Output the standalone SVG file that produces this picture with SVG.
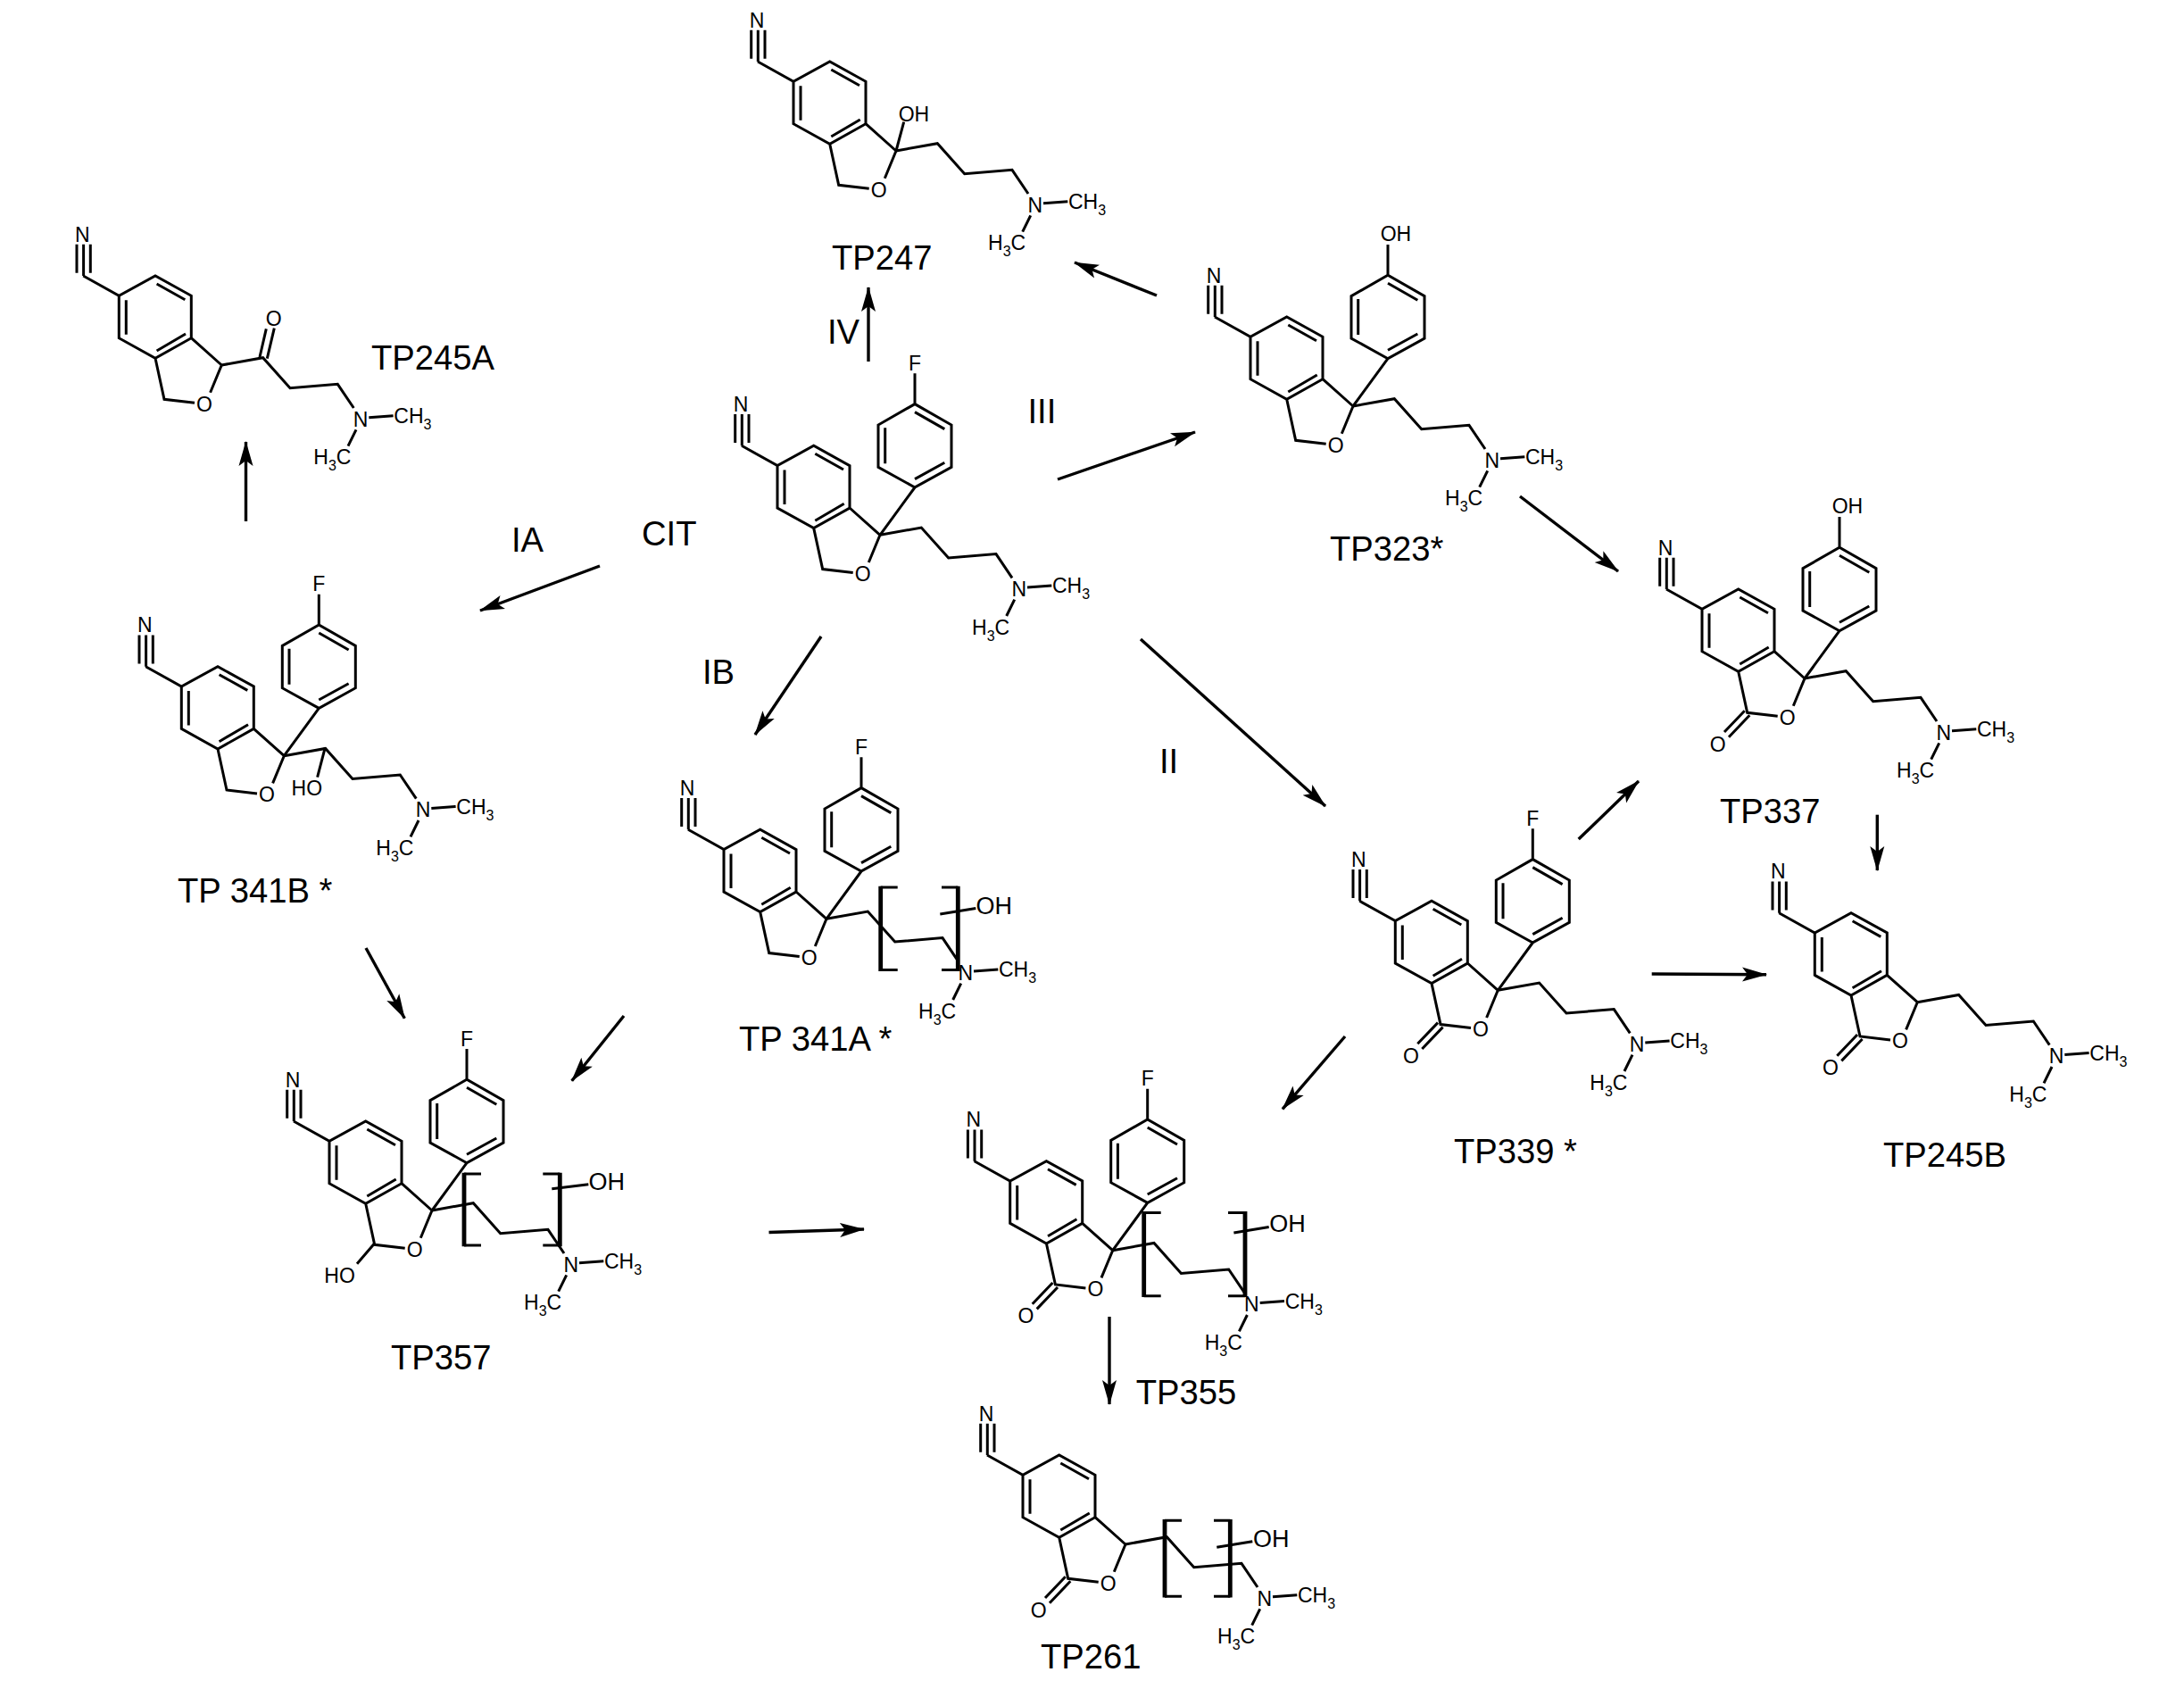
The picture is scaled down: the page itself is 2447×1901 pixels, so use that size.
<svg xmlns="http://www.w3.org/2000/svg" width="2447" height="1901" viewBox="0 0 2447 1901">
<style>
text{font-family:"Liberation Sans",Arial,sans-serif;fill:#000}
.s{font-size:23px}
.u{font-size:16px}
.h{font-size:27px}
.l{font-size:38.2px}
.m{text-anchor:middle}
.b{fill:none;stroke:#000;stroke-width:3;stroke-linejoin:miter}
.v{fill:none;stroke:#000;stroke-width:4.8}
.a{fill:none;stroke:#000;stroke-width:3.4;marker-end:url(#ah)}
</style>
<defs>
<marker id="ah" viewBox="0 0 28 18" refX="27" refY="9" markerWidth="28" markerHeight="18" markerUnits="userSpaceOnUse" orient="auto"><path d="M28,9 L0,1 L6,9 L0,17 Z" fill="#000"/></marker>
<path id="benzo" class="b" d="M-155,-100 L-115,-77.7 L-74.3,-100 L-34,-77.7 L-34,-30.3 L-74.3,-7.7 L-115,-30.3 L-115,-77.7 M-34,-30.3 L0,0 M-72.7,-91 L-41,-73.3 M-107,-72.7 V-34.3 M-40.3,-35 L-72.7,-16 M-162.3,-103.3 V-135.3 M-147,-103.3 V-135.3 M-154.7,-100 V-135.3 M-74.3,-7.7 L-64.3,38.3 L-30.3,42.3 M-12.7,30.7 L0,0"/>
<path id="lactone" class="b" d="M-67.3,36.3 L-90,60 M-61.7,41.3 L-85,65.7"/>
<path id="aryl" class="b" d="M0,0 L39,-53.3 L80,-76 V-123.3 L39,-146.7 L-2,-123.3 V-76 L39,-53.3 M39,-62.7 L72.3,-81 M72.3,-118.7 L39,-137.7 M5.7,-120 V-80 M39,-146.7 V-181"/>
<path id="chain" class="b" d="M0,0 L46.3,-8.3 L76.7,25.7 L130,21.3 L148,48 M165,58.7 L192.3,56.7 M150.7,72.3 L141.7,90.7"/>
</defs>
<rect width="2447" height="1901" fill="#fff"/>
<g id="connectors">
<path class="a" d="M973,405 V322"/>
<path class="a" d="M275.5,584 V495"/>
<path class="a" d="M1296,331 L1204,294"/>
<path class="a" d="M1185,537 L1339,484"/>
<path class="a" d="M672,634 L538,684"/>
<path class="a" d="M920,713 L846,823"/>
<path class="a" d="M1278,716 L1485,903"/>
<path class="a" d="M1703,556 L1813,640"/>
<path class="a" d="M1768.7,940 L1836,875"/>
<path class="a" d="M2103.3,912.7 V975"/>
<path class="a" d="M1850.7,1091 L1979,1091.7"/>
<path class="a" d="M1507,1161 L1437,1242.3"/>
<path class="a" d="M410,1062 L453.3,1140.7"/>
<path class="a" d="M699,1138 L640.7,1210.7"/>
<path class="a" d="M861.5,1380.5 L968,1377"/>
<path class="a" d="M1243,1475 V1573"/>
</g>
<g id="route-labels">
<text class="l" x="719" y="611">CIT</text>
<text class="l" x="573" y="618">IA</text>
<text class="l" x="787" y="766">IB</text>
<text class="l" x="1151.5" y="474">III</text>
<text class="l" x="1299" y="866">II</text>
<text class="l" x="927" y="385">IV</text>
</g>
<g id="CIT"><g transform="translate(986,599.3)">
<use href="#benzo"/><use href="#aryl"/><use href="#chain"/>
<text class="s m" x="-156" y="-138.3">N</text><text class="s m" x="-19.3" y="51.7">O</text><text class="s m" x="39" y="-184.3">F</text><text class="s m" x="155.7" y="68.7">N</text>
<text class="s" x="193" y="65">CH<tspan class="u" dy="7">3</tspan></text><text class="s" x="103" y="111.3">H<tspan class="u" dy="7">3</tspan><tspan dy="-7">C</tspan></text>
</g></g>
<g id="TP247"><g transform="translate(1004,169)">
<use href="#benzo"/><use href="#chain"/><path class="b" d="M0,0 L8.7,-32.3"/>
<text class="s" x="2.7" y="-33">OH</text>
<text class="s m" x="-156" y="-138.3">N</text><text class="s m" x="-19.3" y="51.7">O</text><text class="s m" x="155.7" y="68.7">N</text>
<text class="s" x="193" y="65">CH<tspan class="u" dy="7">3</tspan></text><text class="s" x="103" y="111.3">H<tspan class="u" dy="7">3</tspan><tspan dy="-7">C</tspan></text>
</g><text class="l" x="932" y="301.7">TP247</text></g>
<g id="TP245A"><g transform="translate(248.3,409)">
<use href="#benzo"/><use href="#chain"/><path class="b" d="M42.7,-9 L50,-40.7 M51,-7.3 L59,-41.3"/>
<text class="s m" x="58.3" y="-44">O</text>
<text class="s m" x="-156" y="-138.3">N</text><text class="s m" x="-19.3" y="51.7">O</text><text class="s m" x="155.7" y="68.7">N</text>
<text class="s" x="193" y="65">CH<tspan class="u" dy="7">3</tspan></text><text class="s" x="103" y="111.3">H<tspan class="u" dy="7">3</tspan><tspan dy="-7">C</tspan></text>
</g><text class="l" x="416" y="414.3">TP245A</text></g>
<g id="TP323"><g transform="translate(1516,455)">
<use href="#benzo"/><use href="#aryl"/><use href="#chain"/>
<text class="s" x="30.7" y="-185">OH</text>
<text class="s m" x="-156" y="-138.3">N</text><text class="s m" x="-19.3" y="51.7">O</text><text class="s m" x="155.7" y="68.7">N</text>
<text class="s" x="193" y="65">CH<tspan class="u" dy="7">3</tspan></text><text class="s" x="103" y="111.3">H<tspan class="u" dy="7">3</tspan><tspan dy="-7">C</tspan></text>
</g><text class="l" x="1490" y="628">TP323*</text></g>
<g id="TP337"><g transform="translate(2022,760)">
<use href="#benzo"/><use href="#lactone"/><use href="#aryl"/><use href="#chain"/>
<text class="s" x="30.7" y="-185">OH</text><text class="s m" x="-97.3" y="81.7">O</text>
<text class="s m" x="-156" y="-138.3">N</text><text class="s m" x="-19.3" y="51.7">O</text><text class="s m" x="155.7" y="68.7">N</text>
<text class="s" x="193" y="65">CH<tspan class="u" dy="7">3</tspan></text><text class="s" x="103" y="111.3">H<tspan class="u" dy="7">3</tspan><tspan dy="-7">C</tspan></text>
</g><text class="l" x="1927" y="921.7">TP337</text></g>
<g id="TP341B"><g transform="translate(318.3,846.7)">
<use href="#benzo"/><use href="#aryl"/><use href="#chain"/><path class="b" d="M46,-9.3 L37.3,24"/>
<text class="s" x="8.3" y="44.3">HO</text><text class="s m" x="39" y="-184.3">F</text>
<text class="s m" x="-156" y="-138.3">N</text><text class="s m" x="-19.3" y="51.7">O</text><text class="s m" x="155.7" y="68.7">N</text>
<text class="s" x="193" y="65">CH<tspan class="u" dy="7">3</tspan></text><text class="s" x="103" y="111.3">H<tspan class="u" dy="7">3</tspan><tspan dy="-7">C</tspan></text>
</g><text class="l" x="199" y="1011">TP 341B *</text></g>
<g id="TP341A"><g transform="translate(926,1029.3)">
<use href="#benzo"/><use href="#aryl"/><use href="#chain"/>
<path class="b" d="M79.7,-35.3 H60.7 M79.7,57.3 H60.7 M129,-35.3 H147.3 M129,57.3 H147.3 M127.3,-5.3 L167.3,-11.7"/><path class="v" d="M60.7,-36.6 V58.6 M147.3,-36.6 V58.6"/>
<text class="h" x="167.5" y="-5.3">OH</text><text class="s m" x="39" y="-184.3">F</text>
<text class="s m" x="-156" y="-138.3">N</text><text class="s m" x="-19.3" y="51.7">O</text><text class="s m" x="155.7" y="68.7">N</text>
<text class="s" x="193" y="65">CH<tspan class="u" dy="7">3</tspan></text><text class="s" x="103" y="111.3">H<tspan class="u" dy="7">3</tspan><tspan dy="-7">C</tspan></text>
</g><text class="l" x="828" y="1177">TP 341A *</text></g>
<g id="TP339"><g transform="translate(1678.3,1109.3)">
<use href="#benzo"/><use href="#lactone"/><use href="#aryl"/><use href="#chain"/>
<text class="s m" x="39" y="-184.3">F</text><text class="s m" x="-97.3" y="81.7">O</text>
<text class="s m" x="-156" y="-138.3">N</text><text class="s m" x="-19.3" y="51.7">O</text><text class="s m" x="155.7" y="68.7">N</text>
<text class="s" x="193" y="65">CH<tspan class="u" dy="7">3</tspan></text><text class="s" x="103" y="111.3">H<tspan class="u" dy="7">3</tspan><tspan dy="-7">C</tspan></text>
</g><text class="l" x="1629" y="1302.7">TP339 *</text></g>
<g id="TP245B"><g transform="translate(2148.3,1122.7)">
<use href="#benzo"/><use href="#lactone"/><use href="#chain"/>
<text class="s m" x="-97.3" y="81.7">O</text>
<text class="s m" x="-156" y="-138.3">N</text><text class="s m" x="-19.3" y="51.7">O</text><text class="s m" x="155.7" y="68.7">N</text>
<text class="s" x="193" y="65">CH<tspan class="u" dy="7">3</tspan></text><text class="s" x="103" y="111.3">H<tspan class="u" dy="7">3</tspan><tspan dy="-7">C</tspan></text>
</g><text class="l" x="2110" y="1306.7">TP245B</text></g>
<g id="TP357"><g transform="translate(484,1356)">
<use href="#benzo"/><use href="#aryl"/><use href="#chain"/>
<path class="b" d="M-64.7,37.3 L-84,59.7 M55,-41 H36 M55,39 H36 M124.3,-41 H143.3 M124.3,39 H143.3 M134.3,-24.3 L175.3,-29.3"/><path class="v" d="M36,-42.3 V40.3 M143.3,-42.3 V40.3"/>
<text class="s" x="-120.7" y="81.3">HO</text><text class="h" x="175.5" y="-23.3">OH</text><text class="s m" x="39" y="-184.3">F</text>
<text class="s m" x="-156" y="-138.3">N</text><text class="s m" x="-19.3" y="51.7">O</text><text class="s m" x="155.7" y="68.7">N</text>
<text class="s" x="193" y="65">CH<tspan class="u" dy="7">3</tspan></text><text class="s" x="103" y="111.3">H<tspan class="u" dy="7">3</tspan><tspan dy="-7">C</tspan></text>
</g><text class="l" x="438" y="1534">TP357</text></g>
<g id="TP355"><g transform="translate(1246.7,1400.7)">
<use href="#benzo"/><use href="#lactone"/><use href="#aryl"/><use href="#chain"/>
<path class="b" d="M54,-42.3 H35 M54,51 H35 M129.3,-42.3 H148.3 M129.3,51 H148.3 M135.7,-19.7 L175,-26.3"/><path class="v" d="M35,-43.6 V52.3 M148.3,-43.6 V52.3"/>
<text class="h" x="175.5" y="-20.7">OH</text><text class="s m" x="39" y="-184.3">F</text><text class="s m" x="-97.3" y="81.7">O</text>
<text class="s m" x="-156" y="-138.3">N</text><text class="s m" x="-19.3" y="51.7">O</text><text class="s m" x="155.7" y="68.7">N</text>
<text class="s" x="193" y="65">CH<tspan class="u" dy="7">3</tspan></text><text class="s" x="103" y="111.3">H<tspan class="u" dy="7">3</tspan><tspan dy="-7">C</tspan></text>
</g><text class="l" x="1272.7" y="1573">TP355</text></g>
<g id="TP261"><g transform="translate(1261,1730)">
<use href="#benzo"/><use href="#lactone"/><use href="#chain"/>
<path class="b" d="M63,-26.7 H44 M63,58.3 H44 M99,-26.7 H117.3 M99,58.3 H117.3 M102.3,3.3 L142.3,-3.3"/><path class="v" d="M44,-28 V59.6 M117.3,-28 V59.6"/>
<text class="h" x="143" y="2.7">OH</text><text class="s m" x="-97.3" y="81.7">O</text>
<text class="s m" x="-156" y="-138.3">N</text><text class="s m" x="-19.3" y="51.7">O</text><text class="s m" x="155.7" y="68.7">N</text>
<text class="s" x="193" y="65">CH<tspan class="u" dy="7">3</tspan></text><text class="s" x="103" y="111.3">H<tspan class="u" dy="7">3</tspan><tspan dy="-7">C</tspan></text>
</g><text class="l" x="1166" y="1869">TP261</text></g>
</svg>
